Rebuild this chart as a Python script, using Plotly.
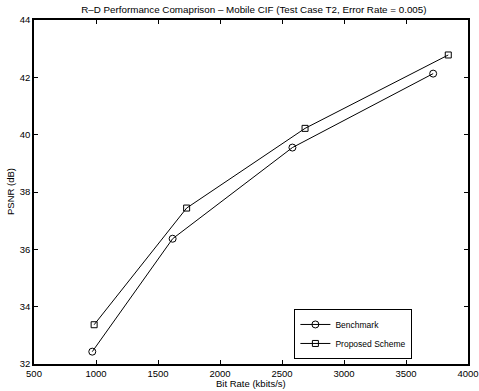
import plotly.graph_objects as go

bench_x = [970, 1618, 2584, 3719]
bench_y = [32.43, 36.37, 39.55, 42.13]
prop_x = [985, 1731, 2686, 3841]
prop_y = [33.37, 37.44, 40.22, 42.78]

x_ticks = [500, 1000, 1500, 2000, 2500, 3000, 3500, 4000]
y_ticks = [32, 34, 36, 38, 40, 42, 44]

FONT = "Liberation Sans, Arial, sans-serif"

fig = go.Figure()
fig.add_trace(go.Scatter(
    x=bench_x, y=bench_y, mode="lines+markers", name="Benchmark",
    line=dict(color="black", width=1),
    marker=dict(symbol="circle-open", size=7, color="black", line=dict(width=1)),
))
fig.add_trace(go.Scatter(
    x=prop_x, y=prop_y, mode="lines+markers", name="Proposed Scheme",
    line=dict(color="black", width=1),
    marker=dict(symbol="square-open", size=6, color="black", line=dict(width=1)),
))

axis_common = dict(
    showline=True, linecolor="black", linewidth=1.5, mirror="ticks",
    ticks="inside", ticklen=4, tickcolor="black", tickwidth=1,
    showgrid=False, zeroline=False, automargin=False,
    ticklabeloverflow="allow",
    tickfont=dict(family=FONT, size=9.5, color="black"),
)

fig.update_xaxes(range=[500, 4000], tickvals=x_ticks, ticktext=[str(v) for v in x_ticks],
                 ticklabelstandoff=0, **axis_common)
fig.update_yaxes(range=[32, 44], tickvals=y_ticks, ticktext=[str(v) for v in y_ticks],
                 ticklabelstandoff=0, **axis_common)

fig.update_layout(
    width=479, height=391,
    margin=dict(l=34, r=11, t=20, b=27),
    paper_bgcolor="white", plot_bgcolor="white",
    font=dict(family=FONT, size=10, color="black"),
    title=dict(text="R\u2013D Performance Comaprison \u2013 Mobile CIF (Test Case T2, Error Rate = 0.005)",
               x=0.53, xanchor="center", y=0.985, yanchor="top",
               font=dict(family=FONT, size=9.8, color="black")),
    showlegend=True,
    legend=dict(x=0.60, y=0.16, xanchor="left", yanchor="top",
                bgcolor="white", bordercolor="black", borderwidth=1,
                font=dict(family=FONT, size=8.5, color="black"),
                tracegroupgap=0, itemwidth=30),
    annotations=[
        dict(text="Bit Rate (kbits/s)", xref="paper", yref="paper", x=0.5, y=-0.036,
             xanchor="center", yanchor="top", showarrow=False,
             font=dict(family=FONT, size=9.5, color="black")),
        dict(text="PSNR (dB)", xref="paper", yref="paper", x=-0.038, y=0.5,
             xanchor="right", yanchor="middle", textangle=-90, showarrow=False,
             font=dict(family=FONT, size=9.5, color="black")),
    ],
)

fig.write_html("out.html", config={"displayModeBar": False},
               post_script="document.body.style.margin='0';document.body.style.overflow='hidden';")
